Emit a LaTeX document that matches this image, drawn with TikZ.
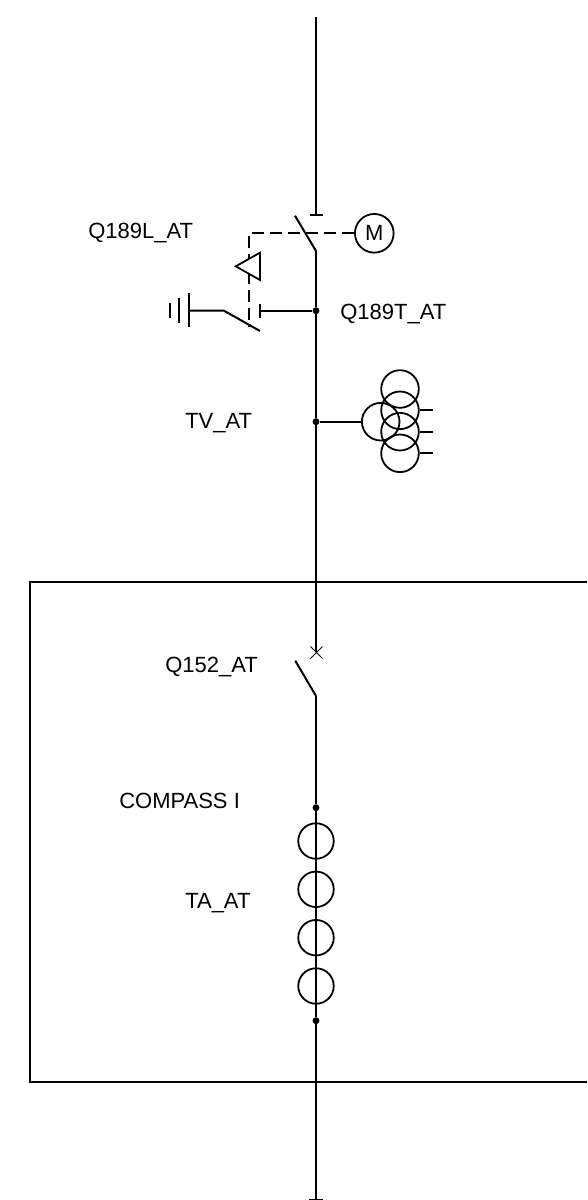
\documentclass[tikz,border=0pt]{standalone}
\usepackage{fontspec}
\setmainfont{Liberation Sans}
\begin{document}
\begin{tikzpicture}[x=0.75pt,y=-0.75pt,
  wire/.style={draw=black,line width=1.5pt},
  frame wire/.style={draw=black,line width=1.1pt},
  thin wire/.style={draw=black,line width=1.35pt},
  dash wire/.style={draw=black,line width=1.35pt,dash pattern=on 9pt off 4.5pt},
  lbl/.style={inner sep=0pt,anchor=west,font=\fontsize{16.5pt}{18pt}\selectfont,text=black},
  dot/.style={circle,fill=black,inner sep=0pt,minimum size=5.2pt},
  coil/.style={circle,draw=black,line width=1.35pt,inner sep=0pt,minimum size=#1},
  coil/.default=27pt]
\useasboundingbox (0,0) rectangle (587,1200);
% frame
\coordinate (bTL) at (30,582);
\coordinate (bBR) at (587,1082);
\draw[frame wire] (587,582) -- (bTL) -- (30,1082) -- (bBR);
% coordinates on the main line
\coordinate (top) at (316,17);
\coordinate (iso1) at (316,215);
\coordinate (k1) at (316,251);
\coordinate (ctrA) at (316,652);
\coordinate (k2) at (316,696);
\coordinate (bot) at (316,1199);
\node[dot] (j1) at (316,310.7) {};
\node[dot] (j2) at (316,421.7) {};
\node[dot] (j3) at (316,807.7) {};
\node[dot] (j4) at (316,1020.7) {};
\draw[wire] (top) -- (iso1);
\draw[wire] (k1) -- (j1) -- (j2) -- (ctrA);
\draw[wire] (k2) -- (j3) -- (j4) -- (bot);
\draw[thin wire] (309,1199.4) -- (323,1199.4);
% line isolator
\draw[thin wire] (309.5,215) -- (323,215);
\coordinate (b1) at (295,215.7);
\draw[wire] (b1) -- (k1);
% motor and mechanical link
\node[circle,draw=black,line width=1.35pt,inner sep=0pt,minimum size=29pt,font=\fontsize{16.5pt}{18pt}\selectfont] (M) at (374.3,233.3) {M};
\coordinate (lk) at (249,233.3);
\coordinate (lkb) at (249,327);
\draw[dash wire] (M.west) -- (lk) -- (lkb);
% interlock triangle
\coordinate (t1) at (260,252.7);
\coordinate (t2) at (235.7,266.3);
\coordinate (t3) at (260,280);
\draw[thin wire,fill=white,line join=miter] (t1) -- (t2) -- (t3) -- cycle;
% earthing switch
\coordinate (e1) at (224,310.7);
\coordinate (e2) at (260,331);
\coordinate (eg) at (189,310.7);
\coordinate (ec) at (260,310.7);
\draw[wire] (eg) -- (e1) -- (e2);
\draw[wire] (ec) -- (j1);
\draw[thin wire] (260,304) -- (260,317.5);
\draw[wire] (189,293) -- (189,327);
\draw[wire] (179.3,298) -- (179.3,323);
\draw[wire] (169.7,303) -- (169.7,318);
% voltage transformer
\node[coil=28.2pt] (vp) at (380.7,421.7) {};
\node[coil=28.2pt] (v1) at (400,389) {};
\node[coil=28.2pt] (v2) at (400,410.3) {};
\node[coil=28.2pt] (v3) at (400,431.7) {};
\node[coil=28.2pt] (v4) at (400,453.3) {};
\draw[wire] (j2) -- (vp.west);
\draw[wire] (v2.east) -- ++(13.5,0);
\draw[wire] (v3.east) -- ++(13.5,0);
\draw[wire] (v4.east) -- ++(13.5,0);
% circuit breaker
\draw[draw=black,line width=0.7pt] (310.5,646.5) -- (322.5,658.5);
\draw[draw=black,line width=0.7pt] (322.5,646.5) -- (310.5,658.5);
\coordinate (b2) at (295.3,660.7);
\draw[wire] (b2) -- (k2);
% current transformers
\node[coil=26.6pt] (c1) at (316,841) {};
\node[coil=26.6pt] (c2) at (316,889.3) {};
\node[coil=26.6pt] (c3) at (316,937.7) {};
\node[coil=26.6pt] (c4) at (316,986) {};
% labels
\node[lbl] (l1) at (88,233) {Q189L\_AT};
\node[lbl] (l2) at (340,314) {Q189T\_AT};
\node[lbl] (l3) at (185,423) {TV\_AT};
\node[lbl] (l4) at (165,667) {Q152\_AT};
\node[lbl] (l5) at (119,801) {COMPASS I};
\node[lbl] (l6) at (185,903) {TA\_AT};
\end{tikzpicture}
\end{document}
